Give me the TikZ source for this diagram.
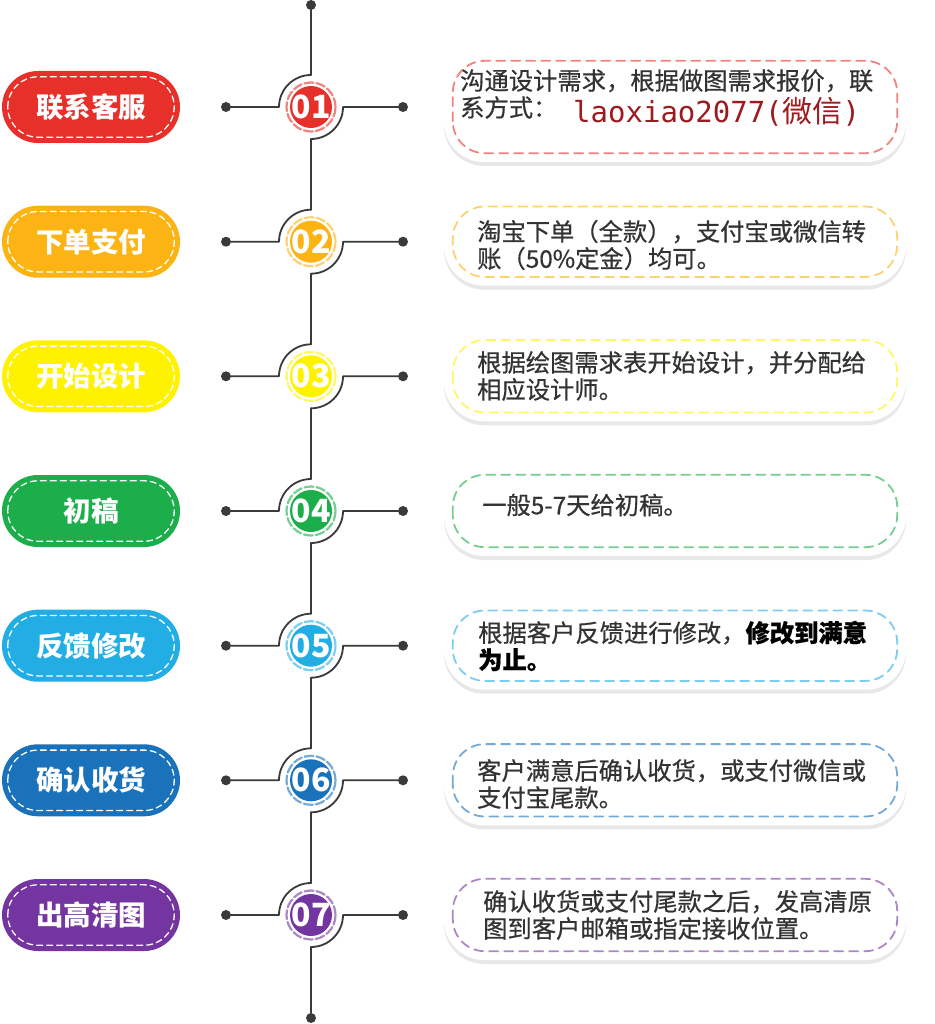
\documentclass[tikz,border=0pt]{standalone}
\usepackage{fontspec}
\setmainfont{Noto Sans CJK SC}
\newfontfamily\bodyfont[FakeBold=0.6]{Noto Sans CJK SC}
\newfontfamily\monofont{DejaVu Sans Mono}
\usetikzlibrary{calc,shadows}

\definecolor{step1}{HTML}{E8302A}
\definecolor{step2}{HTML}{FCB415}
\definecolor{step3}{HTML}{FFF200}
\definecolor{step4}{HTML}{1BAE4B}
\definecolor{step5}{HTML}{23ADE5}
\definecolor{step6}{HTML}{1A72BA}
\definecolor{step7}{HTML}{7535A0}
\definecolor{wire}{HTML}{3A3A3A}
\definecolor{bodytext}{HTML}{333333}
\definecolor{wechat}{HTML}{9E1A1E}

% one stage: #1 number, #2 vertical position, #3 label, #4 card height, #5 text x, #6 text y, #7 text
\newcommand{\stagerow}[7]{%
	\coordinate (n#1) at (311,#2+32);
	\coordinate (s#1) at (311,#2-32);
	\coordinate (e#1) at (343,#2);
	\node[dot] (ldot#1) at (226,#2) {};
	\node[dot] (rdot#1) at (403,#2) {};
	\draw[wire] (n#1) arc[start angle=90, end angle=180, radius=32] -- (ldot#1);
	\draw[wire] (rdot#1) -- (e#1) arc[start angle=0, end angle=-90, radius=32];
	% number
	\fill[fill=step#1] (311,#2) circle (21);
	\draw[draw=step#1!60!white, line width=2.2pt, dash pattern=on 9pt off 3pt] (311,#2) circle (24.5);
	\node[numtext] (num#1) at (311,#2) {0#1};
	% left pill
	\node[pill, fill=step#1] (pill#1) at (91,#2) {};
	\draw[white, line width=1.3pt, dash pattern=on 6pt off 4pt, rounded corners=30pt]
	($(pill#1.south west)+(6,6)$) rectangle ($(pill#1.north east)+(-6,-6)$);
	\node[pilltext] (lab#1) at (pill#1) {#3};
	% right card
	\node[card, minimum height=#4] (card#1) at (675,#2) {};
	\draw[draw=step#1!60!white, line width=1.8pt, dash pattern=on 9pt off 6pt, rounded corners=32pt]
	($(card#1.south west)+(9,9)$) rectangle ($(card#1.north east)+(-9,-9)$);
	\node[cardtext] (txt#1) at (#5,#6) {#7};
}

\begin{document}
\begin{tikzpicture}[
	x=1pt, y=1pt,
	every node/.style={inner sep=0pt},
	line cap=round,
	line join=round,
	wire/.style={draw=wire, line width=1.8pt},
	dot/.style={circle, fill=wire, minimum size=10pt},
	pill/.style={rounded corners=36pt, minimum width=178pt, minimum height=72pt},
	pilltext/.style={text=white, font=\bfseries\fontsize{27.5}{30}\selectfont},
	card/.style={rounded corners=40pt, minimum width=462pt, fill=white,
		drop shadow={shadow xshift=0pt, shadow yshift=-4pt, opacity=0.09, fill=black}},
	cardtext/.style={text=bodytext, align=left, anchor=west, font=\bodyfont\fontsize{24.3}{27}\selectfont},
	numtext/.style={text=white, font=\bfseries\fontsize{32}{32}\selectfont}
	]
	
	\useasboundingbox[fill=white] (0,0) rectangle (934,-1024);
	
	% trunk ends
	\node[dot] (topdot) at (311,-5) {};
	\node[dot] (botdot) at (311,-1018) {};
	
	% Stage 1
	\stagerow{1}{-107}{联系客服}{110}{460}{-94}{沟通设计需求，根据做图需求报价，联\\系方式：}
	% Stage 2
	\stagerow{2}{-241.7}{下单支付}{88}{477}{-245}{淘宝下单（全款），支付宝或微信转\\账（50\%定金）均可。}
	% Stage 3
	\stagerow{3}{-376.3}{开始设计}{90}{477}{-376}{根据绘图需求表开始设计，并分配给\\相应设计师。}
	% Stage 4
	\stagerow{4}{-511}{初稿}{90}{482}{-505}{一般5-7天给初稿。}
	% Stage 5
	\stagerow{5}{-645.7}{反馈修改}{88}{478}{-646}{根据客户反馈进行修改，{\bfseries\color{black}修改到满意}\\{\bfseries\color{black}为止。}}
	% Stage 6
	\stagerow{6}{-780.3}{确认收货}{90}{477}{-784}{客户满意后确认收货，或支付微信或\\支付宝尾款。}
	% Stage 7
	\stagerow{7}{-915}{出高清图}{90}{483}{-915}{确认收货或支付尾款之后，发高清原\\图到客户邮箱或指定接收位置。}
	
	% trunk
	\draw[wire] (topdot) -- (n1);
	\foreach \i/\j in {1/2,2/3,3/4,4/5,5/6,6/7}
	\draw[wire] (s\i) -- (n\j);
	\draw[wire] (s7) -- (botdot);
	
	% contact
	\node[anchor=base west, text=wechat] (wechat) at (573,-123)
	{\monofont\fontsize{29}{30}\selectfont laoxiao2077(\fontsize{30}{30}\selectfont\normalfont 微信\monofont\fontsize{29}{30}\selectfont)};
	
\end{tikzpicture}
\end{document}
